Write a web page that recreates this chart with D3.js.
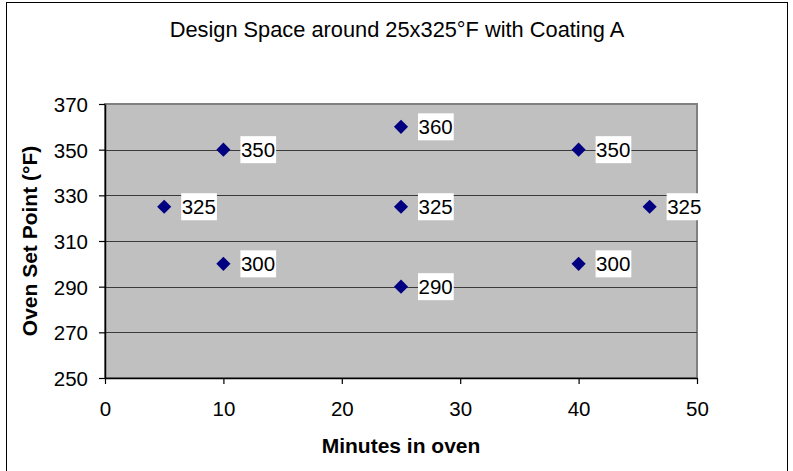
<!DOCTYPE html>
<html>
<head>
<meta charset="utf-8">
<script src="https://cdn.jsdelivr.net/npm/d3@7"></script>
<style>
  body { margin: 0; background: #fff; }
  svg { display: block; font-family: "Liberation Sans", Arial, sans-serif; }
</style>
</head>
<body>
<svg id="chart" width="793" height="471"></svg>
<script>
// Design-space points: oven time (minutes) and set point (°F)
const minutes = [5, 10, 10, 25, 25, 25, 40, 40, 46];
const setPoints = [325, 350, 300, 360, 325, 290, 350, 300, 325];
const xTicks = [0, 10, 20, 30, 40, 50];
const yTicks = [250, 270, 290, 310, 330, 350, 370];
const titleText = "Design Space around 25x325°F with Coating A";
const xTitle = "Minutes in oven";
const yTitle = "Oven Set Point (°F)";

const svg = d3.select("#chart");
const plot = { left: 105, right: 697, top: 104, bottom: 378 };
const tickFont = "20.5px";

// outer chart frame
svg.append("rect")
  .attr("x", 6.5).attr("y", 2.5)
  .attr("width", 781).attr("height", 475)
  .attr("fill", "#fff").attr("stroke", "#000").attr("stroke-width", 1);

const x = d3.scaleLinear().domain([0, 50]).range([plot.left, plot.right]);
const y = d3.scaleLinear().domain([250, 370]).range([plot.bottom, plot.top]);

// plot area background with grey border
svg.append("rect")
  .attr("x", plot.left).attr("y", plot.top)
  .attr("width", plot.right - plot.left).attr("height", plot.bottom - plot.top)
  .attr("fill", "#c0c0c0").attr("stroke", "#808080").attr("stroke-width", 2);

// horizontal gridlines
svg.append("g").selectAll("line")
  .data(yTicks.filter(t => t > 250 && t < 370))
  .join("line")
  .attr("x1", plot.left).attr("x2", plot.right)
  .attr("y1", d => Math.round(y(d)) + 0.5).attr("y2", d => Math.round(y(d)) + 0.5)
  .attr("stroke", "#3a3a3a").attr("stroke-width", 1.2);

// axes
const xAxis = svg.append("g")
  .attr("transform", `translate(0,${plot.bottom})`)
  .call(d3.axisBottom(x).tickValues(xTicks).tickSize(6).tickPadding(17).tickSizeOuter(0));
const yAxis = svg.append("g")
  .attr("transform", `translate(${plot.left},0)`)
  .call(d3.axisLeft(y).tickValues(yTicks).tickSize(6).tickPadding(11).tickSizeOuter(0));

[xAxis, yAxis].forEach(a => {
  a.select(".domain").attr("stroke", "#000").attr("stroke-width", 1.5);
  a.selectAll(".tick line").attr("stroke", "#000").attr("stroke-width", 1.2);
  a.selectAll(".tick text")
    .attr("fill", "#000")
    .style("font-family", '"Liberation Sans", Arial, sans-serif')
    .style("font-size", tickFont);
});
yAxis.selectAll(".tick text").attr("dy", "0.36em");

// points
const pts = minutes.map((m, i) => ({ m, v: setPoints[i] }));
const diamond = d3.symbol().type(d3.symbolDiamond2).size(128);

svg.append("g").selectAll("path")
  .data(pts)
  .join("path")
  .attr("d", diamond)
  .attr("transform", d => `translate(${x(d.m)},${y(d.v)})`)
  .attr("fill", "#000080");

// data labels with white boxes
const labels = svg.append("g").selectAll("g")
  .data(pts)
  .join("g")
  .attr("transform", d => `translate(${x(d.m) + 17},${y(d.v)})`);

labels.append("rect")
  .attr("y", -13.5).attr("height", 27)
  .attr("fill", "#fff");

labels.append("text")
  .attr("x", 0.5)
  .attr("dy", "0.36em")
  .style("font-size", tickFont)
  .attr("fill", "#000")
  .text(d => d.v);

labels.each(function () {
  const g = d3.select(this);
  const w = g.select("text").node().getComputedTextLength();
  g.select("rect").attr("width", w + 1.5);
});

// titles
svg.append("text")
  .attr("x", 397).attr("y", 37)
  .attr("text-anchor", "middle")
  .style("font-size", "21.8px")
  .text(titleText);

svg.append("text")
  .attr("x", 401).attr("y", 453)
  .attr("text-anchor", "middle")
  .style("font-size", "21px").style("font-weight", "bold")
  .text(xTitle);

svg.append("text")
  .attr("transform", `translate(37,${(plot.top + plot.bottom) / 2}) rotate(-90)`)
  .attr("text-anchor", "middle")
  .style("font-size", "21px").style("font-weight", "bold")
  .text(yTitle);
</script>
</body>
</html>
